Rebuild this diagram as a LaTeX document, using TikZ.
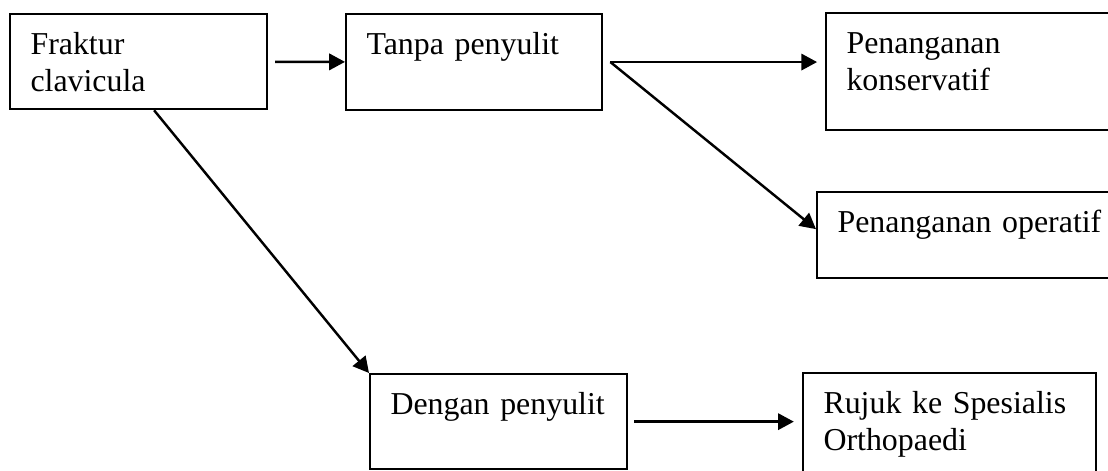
\documentclass[tikz,border=0pt]{standalone}
\usepackage{fontspec}
\setmainfont{Liberation Serif}
\usetikzlibrary{arrows.meta}

\begin{document}
\begin{tikzpicture}[x=0.367pt, y=-0.367pt,
    box/.style 2 args={draw, line width=0.8pt, anchor=north west,
      align=left, inner xsep=7.5pt, inner ysep=0pt,
      text width=#1, text height=14.7pt, text depth=#2,
      font=\fontsize{11.7pt}{13.6pt}\selectfont},
    arr/.style={-{Triangle[length=5.8pt,width=6pt]}, line width=0.9pt}]
  \useasboundingbox (0,0) rectangle (1108,470);
  \clip (0,0) rectangle (1108,470);

  % boxes
  \node[box={79.3pt}{20.2pt}] (fraktur) at (9,13) {Fraktur\\clavicula};
  \node[box={79pt}{20.5pt}] (tanpa) at (345,13) {Tanpa penyulit};
  \node[box={106pt}{28.2pt}] (kons) at (825,12) {Penanganan\\konservatif};
  \node[box={106pt}{16.9pt}] (oper) at (816,191) {Penanganan operatif};
  \node[box={79.3pt}{20.2pt}] (dengan) at (369,373) {Dengan penyulit};
  \node[box={92.5pt}{29.3pt}] (rujuk) at (802,372) {Rujuk ke Spesialis\\Orthopaedi};

  % arrows
  \draw[arr, shorten <=2.6pt] (fraktur) -- (tanpa);
  \coordinate (split) at ([xshift=2.6pt]tanpa.east);
  \draw[arr, shorten >=2.9pt] (split) -- (split -| kons.west);
  \draw[arr] (split) -- ([yshift=2.2pt]oper.west);
  \draw[arr] ([xshift=5.7pt]fraktur.south) -- (dengan.north west);
  \draw[arr, shorten <=2.2pt, shorten >=3pt] (dengan.east) -- (dengan.east -| rujuk.west);
\end{tikzpicture}
\end{document}
